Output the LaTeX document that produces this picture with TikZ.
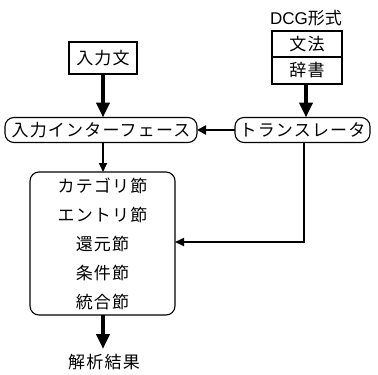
\documentclass[tikz,border=0pt]{standalone}
\usepackage{fontspec}
\newfontfamily\jp[LetterSpace=7]{Noto Sans CJK JP}
\newfontfamily\jpn{Noto Sans CJK JP}
\newfontfamily\lat{Liberation Sans}
\usetikzlibrary{arrows.meta}
\begin{document}
\begin{tikzpicture}[x=1pt,y=-1pt,
  every node/.style={inner sep=0pt, outer sep=0pt},
  sqbox/.style={draw, line width=1.1pt, font=\jp\fontsize{17}{19}\selectfont},
  rbox/.style={draw, line width=1.1pt, rounded corners=9pt, font=\jp\fontsize{17}{19}\selectfont},
  plain/.style={font=\jp\fontsize{17}{19}\selectfont},
  bigarrow/.style={line width=4.5pt, -{Triangle[width=13pt,length=15pt]}},
  midarrow/.style={line width=2.5pt, -{Triangle[width=9pt,length=9pt]}},
  thinarrow/.style={line width=2pt, -{Triangle[width=8pt,length=9pt]}}]
\useasboundingbox (0,0) rectangle (378,375);
\node[sqbox, minimum width=68pt, minimum height=32pt] (in) at (103,58) {入力文};
\node[font=\fontsize{17}{19}\selectfont] (dcg) at (306,18) {\lat DCG\jpn 形式};
\node[sqbox, minimum width=70pt, minimum height=26pt] (gram) at (307,44) {文法};
\node[sqbox, minimum width=70pt, minimum height=27pt, anchor=north] (dict) at (gram.south) {辞書};
\node[rbox, minimum width=192pt, minimum height=25pt] (iface) at (101,130) {入力インターフェース};
\node[rbox, minimum width=135pt, minimum height=25pt] (trans) at (302.5,130) {トランスレータ};
\node[rbox, minimum width=145pt, minimum height=143pt, align=center,
      font=\jp\fontsize{17}{29}\selectfont] (big) at (102.5,243.5)
  {カテゴリ節\\エントリ節\\還元節\\条件節\\統合節};
\node[plain] (res) at (104,362) {解析結果};
\coordinate (turn) at (304,242);
\draw[bigarrow] (in.south) -- (iface.north -| in.south);
\draw[bigarrow] (dict.south -| 306,0) -- (trans.north -| 306,0);
\draw[midarrow] (trans.west) -- (iface.east);
\draw[thinarrow] (iface.south -| 103,0) -- (big.north -| 103,0);
\draw[line width=2pt, -{Triangle[width=8pt,length=9pt]}] (trans.south -| turn) -- (turn) -- (big.east |- turn);
\draw[bigarrow] (big.south -| 103,0) -- (103,349);
\end{tikzpicture}
\end{document}
